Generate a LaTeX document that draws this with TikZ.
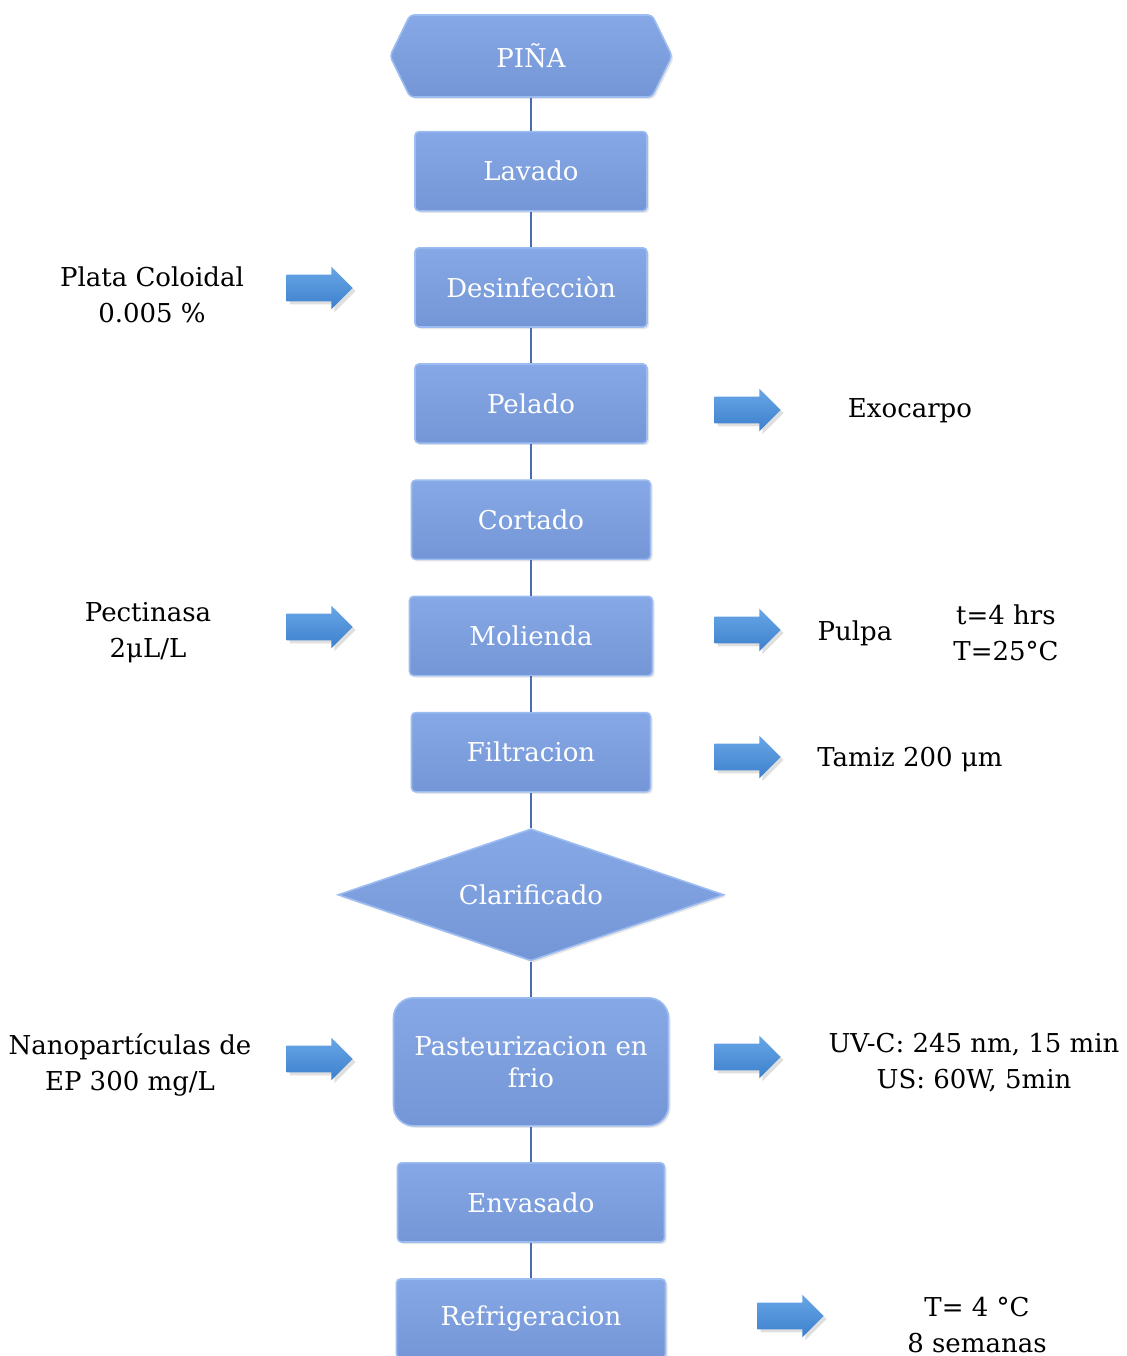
\documentclass[tikz,border=0pt]{standalone}
\usepackage{fontspec}
\setmainfont{DejaVu Serif}
\usetikzlibrary{positioning,shapes.geometric,shapes.symbols,shapes.arrows,shadows}
\definecolor{cajaarriba}{RGB}{134,168,230}
\definecolor{cajaabajo}{RGB}{116,150,214}
\definecolor{cajaborde}{RGB}{156,188,242}
\definecolor{lineaazul}{RGB}{72,108,178}
\definecolor{flechaarriba}{RGB}{104,166,230}
\definecolor{flechaabajo}{RGB}{60,128,204}
\tikzset{
    %Define style for process boxes
    paso/.style={
           rectangle,
           rounded corners=2pt,
           top color=cajaarriba, bottom color=cajaabajo,
           draw=cajaborde, thick,
           minimum width=116pt,
           minimum height=39.6pt,
           text=white,
           align=center,
           font=\fontsize{13}{16}\selectfont,
           drop shadow={opacity=0.2,shadow xshift=1pt,shadow yshift=-1pt}},
    % Define style for side block arrows
    flecha/.style={
           single arrow,
           top color=flechaarriba, bottom color=flechaabajo,
           draw=none,
           inner sep=6.5pt,
           single arrow head extend=4pt,
           minimum height=33pt,
           drop shadow={opacity=0.25,shadow xshift=1.5pt,shadow yshift=-1.5pt}},
    % Define style for side notes
    nota/.style={
           align=center,
           font=\fontsize{13}{18}\selectfont},
    % Define connector style
    linea/.style={
           draw=lineaazul,
           line width=0.8pt}
}

\begin{document}
\begin{tikzpicture}[x=0.5pt, y=-0.5pt, node distance=17.7pt]
\useasboundingbox (0,0) rectangle (1127,1356);

\node[paso, signal, signal to=east and west, signal pointer angle=128,
      minimum width=141pt, minimum height=41pt, inner sep=0pt] (pina) at (531,56) {PIÑA};
\node[paso, below=16.5pt of pina] (lavado) {Lavado};
\node[paso, below=of lavado] (desinf) {Desinfecciòn};
\node[paso, below=of desinf] (pelado) {Pelado};
\node[paso, below=of pelado, minimum width=119.5pt] (cortado) {Cortado};
\node[paso, below=of cortado, minimum width=121.5pt] (molienda) {Molienda};
\node[paso, below=of molienda, minimum width=119.5pt] (filtracion) {Filtracion};
\node[paso, diamond, aspect=2.9, rounded corners=0pt, below=of filtracion,
      minimum width=193pt, minimum height=66pt, inner sep=0pt] (clarif) {Clarificado};
\node[paso, below=of clarif, rounded corners=10pt,
      minimum width=137.5pt, minimum height=64pt] (pasteur) {Pasteurizacion en\\frio};
\node[paso, below=of pasteur, minimum width=133.5pt] (envasado) {Envasado};
\node[paso, below=of envasado, minimum width=134.5pt] (refrig) {Refrigeracion};

\path[linea] (pina) edge (lavado)
        (lavado) edge (desinf)
        (desinf) edge (pelado)
        (pelado) edge (cortado)
       (cortado) edge (molienda)
      (molienda) edge (filtracion)
    (filtracion) edge (clarif)
        (clarif) edge (pasteur)
       (pasteur) edge (envasado)
      (envasado) edge (refrig);

% inputs on the left
\node[flecha] (fl-desinf) at (313,288) {};
\node[flecha] (fl-molienda) at (313,627) {};
\node[flecha] (fl-pasteur) at (313,1059) {};
\node[nota] (plata) at (152,295) {Plata Coloidal\\0.005 \%};
\node[nota] (pectinasa) at (148,633) {Pectinasa\\2μL/L};
\node[nota] (nano) at (130,1065) {Nanopartículas de\\EP 300 mg/L};

% outputs and conditions on the right
\node[flecha] (fr-pelado) at (741,410) {};
\node[flecha] (fr-molienda) at (741,630) {};
\node[flecha] (fr-filtracion) at (741,757) {};
\node[flecha] (fr-pasteur) at (741,1057) {};
\node[flecha] (fr-refrig) at (784,1316) {};
\node[nota] (exocarpo) at (910,411) {Exocarpo};
\node[nota] (pulpa) at (855,633) {Pulpa};
\node[nota] (tiempo) at (1006,633) {t=4 hrs\\T=25°C};
\node[nota] (tamiz) at (910,760) {Tamiz 200 μm};
\node[nota] (uvc) at (974,1063) {UV-C: 245 nm, 15 min\\US: 60W, 5min};
\node[nota] (frio) at (977,1325) {T= 4 °C\\8 semanas};

\end{tikzpicture}
\end{document}
